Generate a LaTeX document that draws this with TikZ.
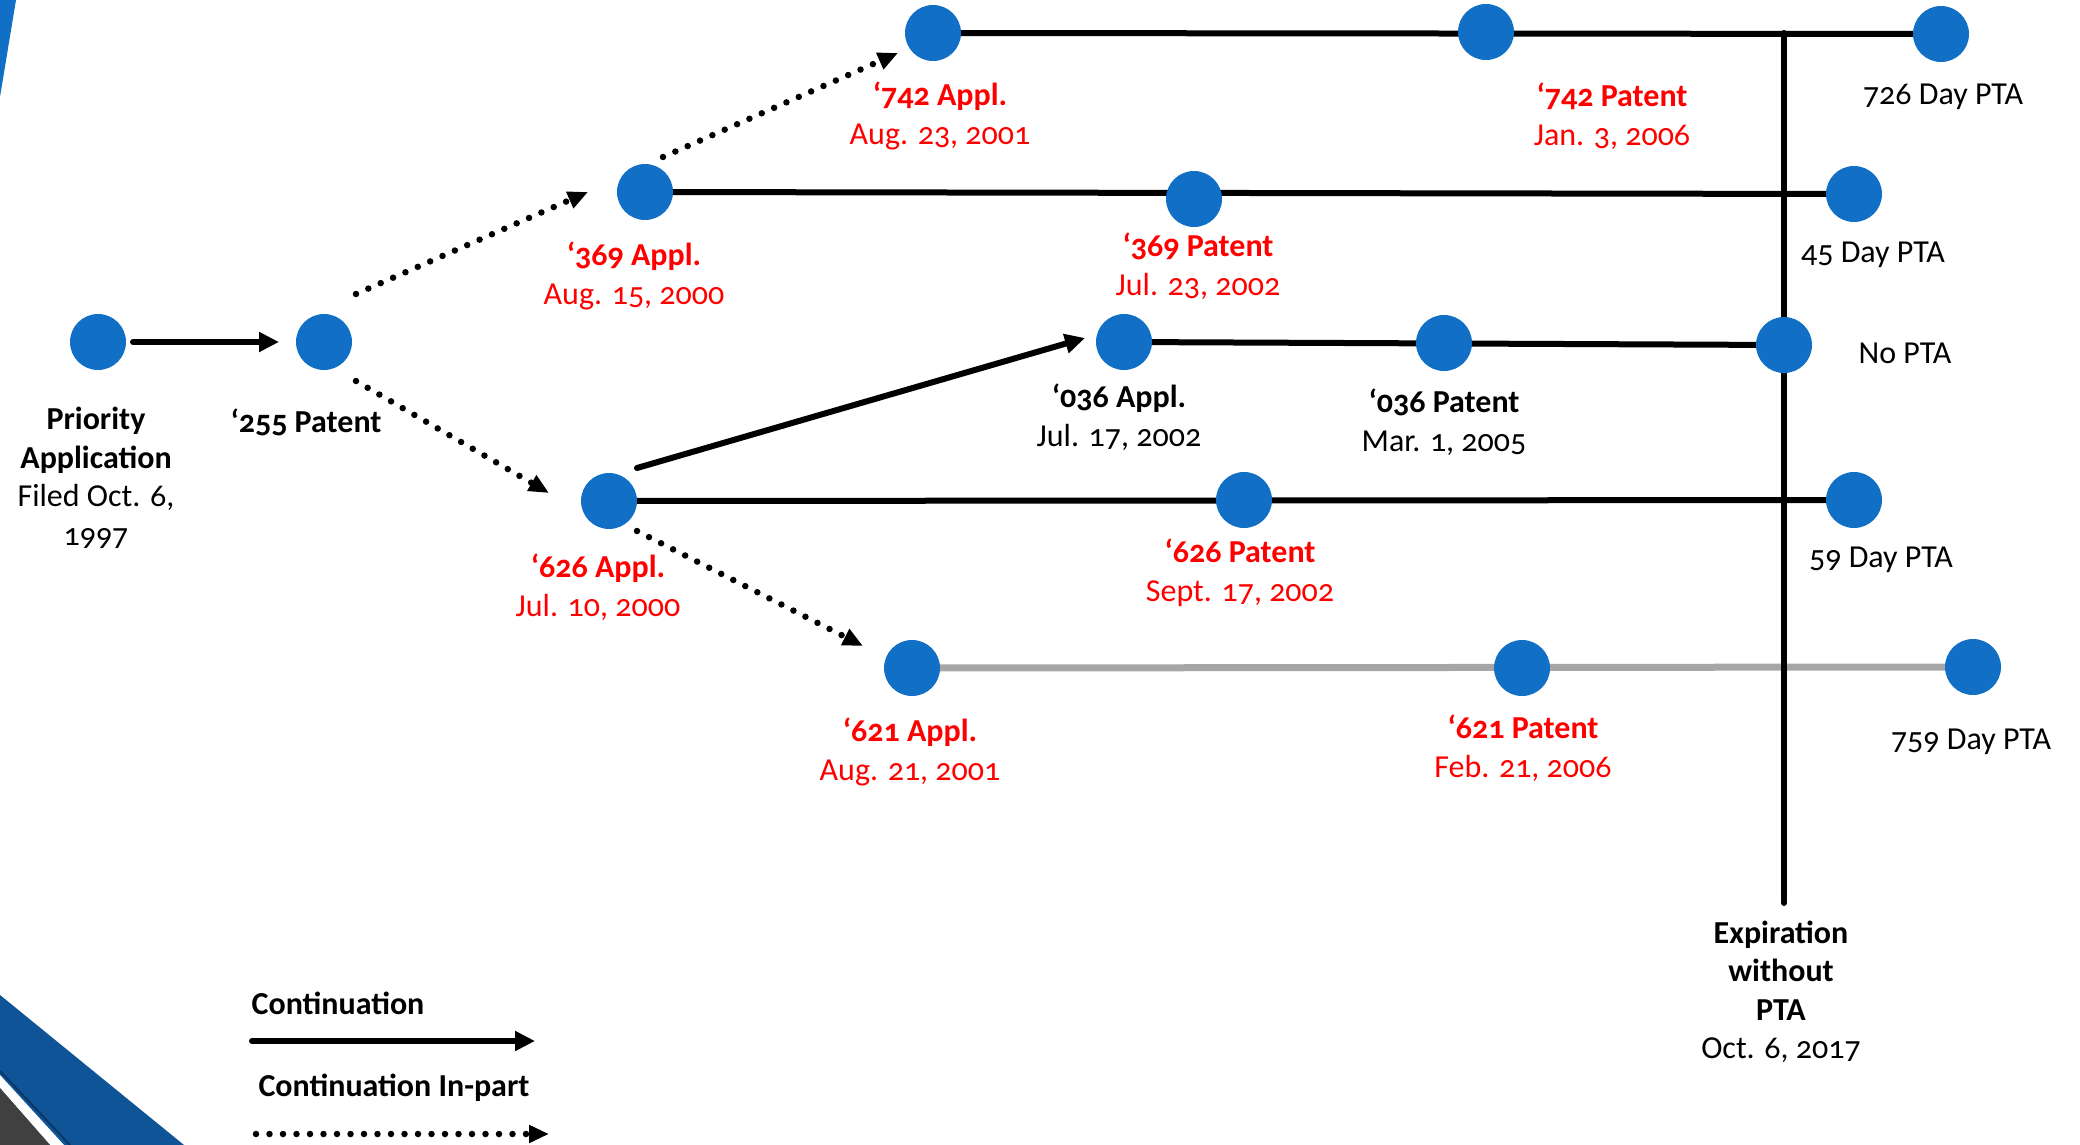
\documentclass[tikz,border=0pt]{standalone}
\usepackage{fontspec}
\setmainfont{Carlito}[Numbers=OldStyle]
\usetikzlibrary{arrows.meta,backgrounds}
\definecolor{dotblue}{RGB}{17,112,198}
\definecolor{cred}{RGB}{255,0,0}
\definecolor{lgrey}{RGB}{166,166,166}
\definecolor{bandblue}{RGB}{15,84,150}
\definecolor{navyline}{RGB}{10,55,100}
\definecolor{dgrey}{RGB}{64,64,64}
\begin{document}
\begin{tikzpicture}[x=1pt,y=-1pt,
  bdot/.style={circle,fill=dotblue,minimum size=56pt,inner sep=0pt},
  lbl/.style={font=\fontsize{32pt}{38.5pt}\selectfont,align=center,inner sep=0pt},
  rlbl/.style={lbl,text=cred},
  tline/.style={line width=6pt},
  gline/.style={line width=7pt,color=lgrey},
  cont/.style={line width=6pt,line cap=round,-{Triangle[length=20pt,width=19pt]}},
  cip/.style={line width=6.5pt,line cap=round,dash pattern=on 0pt off 13.5pt,-{Triangle[length=20pt,width=17pt]}},
]
\useasboundingbox (0,0) rectangle (2080,1145);
% decoration
\fill[dotblue] (0,0) -- (16,0) -- (0,97) -- cycle;
\fill[bandblue] (0,995) -- (184,1145) -- (0,1145) -- cycle;
\draw[navyline,line width=2pt] (0,1071) -- (70,1145);
\fill[white] (0,1075) -- (64,1145) -- (50,1145) -- (0,1088) -- cycle;
\fill[dgrey] (0,1088) -- (50,1145) -- (0,1145) -- cycle;

% nodes
\node[bdot] (prio) at (98,342) {};
\node[bdot] (p255) at (324,342) {};
\node[bdot] (a369) at (645,192) {};
\node[bdot] (a742) at (933,33) {};
\node[bdot] (p742) at (1486,32) {};
\node[bdot] (pta726) at (1941,34) {};
\node[bdot] (p369) at (1194,199) {};
\node[bdot] (pta45) at (1854,194) {};
\node[bdot] (a036) at (1124,342) {};
\node[bdot] (p036) at (1444,343) {};
\node[bdot] (nopta) at (1784,345) {};
\node[bdot] (a626) at (609,501) {};
\node[bdot] (p626) at (1244,500) {};
\node[bdot] (pta59) at (1854,500) {};
\node[bdot] (a621) at (912,668) {};
\node[bdot] (p621) at (1522,668) {};
\node[bdot] (pta759) at (1973,667) {};
\coordinate (vtop) at (1784,33);
\coordinate (vbot) at (1784,903);

\begin{pgfonlayer}{background}
\draw[tline] (a742.center) -- (pta726.center);
\draw[tline] (a369.center) -- (pta45.center);
\draw[tline] (a036.center) -- (nopta.center);
\draw[tline] (a626.center) -- (pta59.center);
\draw[gline] (a621.center) -- (pta759.center);
\draw[tline,line cap=round] (vtop) -- (vbot);
\end{pgfonlayer}

% arrows
\draw[cont] ([shift={(35,0)}]prio.center) -- ([shift={(-45,0)}]p255.center);
\draw[cip] ([shift={(32,-48)}]p255.center) -- ([shift={(-57,0)}]a369.center);
\draw[cip] ([shift={(18,-35)}]a369.center) -- ([shift={(-35,20)}]a742.center);
\draw[cip] ([shift={(32,39)}]p255.center) -- ([shift={(-60,-8)}]a626.center);
\draw[cip] ([shift={(28,30)}]a626.center) -- ([shift={(-49,-22)}]a621.center);
\draw[cont] ([shift={(28,-33)}]a626.center) -- ([shift={(-39,-4)}]a036.center);

% labels
\node[lbl] (tprio) at (96,478) {\textbf{Priority}\\\textbf{Application}\\Filed Oct. 6,\\1997};
\node[lbl] (t255) at (306,422) {\textbf{‘255 Patent}};
\node[rlbl] (t369a) at (634,276) {\textbf{‘369 Appl.}\\Aug. 15, 2000};
\node[rlbl] (t742a) at (940,116) {\textbf{‘742 Appl.}\\Aug. 23, 2001};
\node[rlbl] (t742p) at (1612,116) {\textbf{‘742 Patent}\\Jan. 3, 2006};
\node[lbl] (t726) at (1943,97) {726 Day PTA};
\node[rlbl] (t369p) at (1198,266) {\textbf{‘369 Patent}\\Jul. 23, 2002};
\node[lbl] (t45) at (1873,255) {45 Day PTA};
\node[lbl] (tno) at (1905,353) {No PTA};
\node[lbl] (t036a) at (1119,417) {\textbf{‘036 Appl.}\\Jul. 17, 2002};
\node[lbl] (t036p) at (1444,422) {\textbf{‘036 Patent}\\Mar. 1, 2005};
\node[rlbl] (t626a) at (598,587) {\textbf{‘626 Appl.}\\Jul. 10, 2000};
\node[rlbl] (t626p) at (1240,573) {\textbf{‘626 Patent}\\Sept. 17, 2002};
\node[lbl] (t59) at (1881,560) {59 Day PTA};
\node[rlbl] (t621a) at (910,752) {\textbf{‘621 Appl.}\\Aug. 21, 2001};
\node[rlbl] (t621p) at (1523,748) {\textbf{‘621 Patent}\\Feb. 21, 2006};
\node[lbl] (t759) at (1971,742) {759 Day PTA};
\node[lbl] (texp) at (1781,992) {\textbf{Expiration}\\\textbf{without}\\\textbf{PTA}\\Oct. 6, 2017};

% legend
\node[lbl] (tc) at (338,1003) {\textbf{Continuation}};
\node[lbl] (tcip) at (394,1088) {\textbf{Continuation In-part}};
\coordinate (l1s) at (252,1041);
\coordinate (l1e) at (535,1041);
\coordinate (l2s) at (256,1134);
\coordinate (l2e) at (549,1134);
\draw[cont] (l1s) -- (l1e);
\draw[cip] (l2s) -- (l2e);
\end{tikzpicture}
\end{document}
